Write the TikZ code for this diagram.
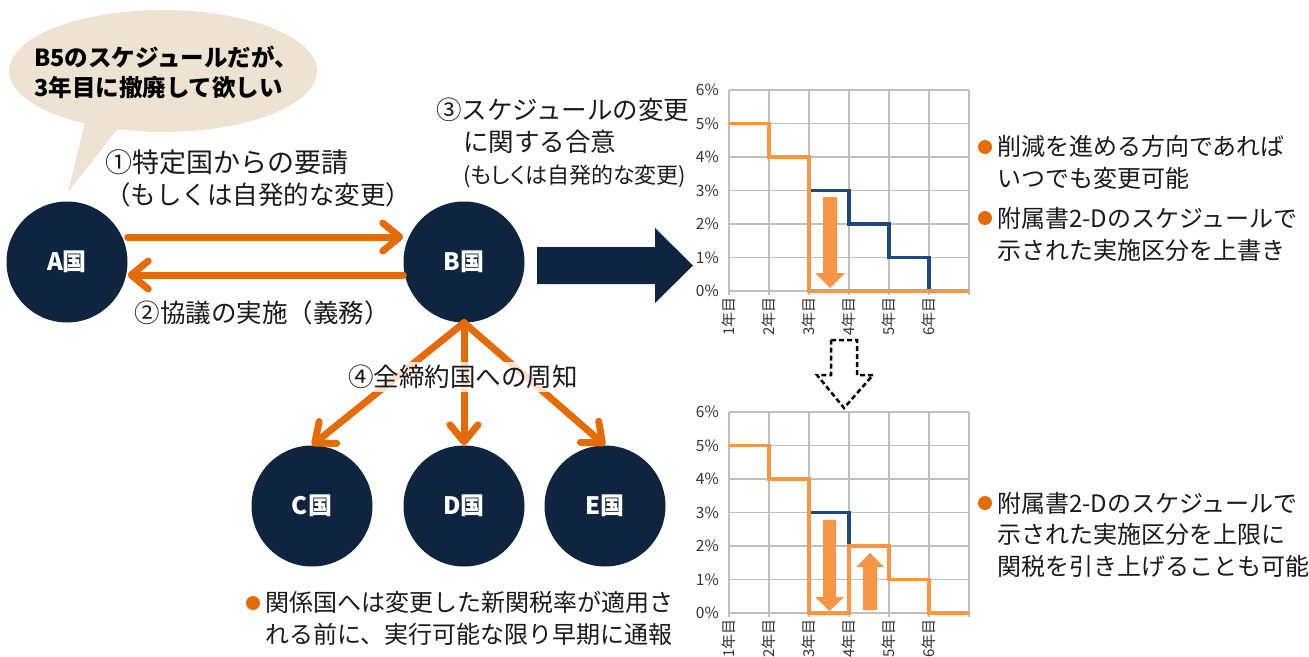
\documentclass[tikz,border=0pt]{standalone}
\usepackage{fontspec}
\setmainfont{Noto Sans CJK JP}
\usetikzlibrary{arrows.meta}
\definecolor{navy}{HTML}{0F243E}
\definecolor{flowor}{HTML}{E36C09}
\definecolor{lightor}{HTML}{F79646}
\definecolor{lineblue}{HTML}{1F497D}
\definecolor{bubblebg}{HTML}{EEE3D2}
\definecolor{gridgray}{HTML}{BFBFBF}
\definecolor{ink}{HTML}{1A1A1A}
\definecolor{axisink}{HTML}{333333}
\begin{document}
\begin{tikzpicture}
[x=1pt,y=-1pt,%
  country/.style={circle,fill=navy,minimum size=121pt,inner sep=0pt,text=white,font=\fontsize{24}{26}\selectfont\bfseries},%
  flow/.style={draw=flowor,line width=7pt,line cap=round,-{Straight Barb[length=17pt,width=28pt,round]}},%
  talk/.style={inner sep=0pt,text=ink,align=left,font=\fontsize{25.5}{32}\selectfont},%
  memo/.style={inner sep=0pt,text=ink,align=left,font=\fontsize{24}{31.5}\selectfont},%
  dot/.style={circle,fill=flowor,minimum size=14pt,inner sep=0pt},%
  pct/.style={anchor=east,inner sep=0pt,text=axisink,font=\fontsize{15.5}{17}\selectfont},%
  yearlbl/.style={rotate=90,anchor=east,inner sep=0pt,text=axisink,font=\fontsize{15}{17}\selectfont},%
  gridline/.style={draw=gridgray,line width=1.5pt},%
  planned/.style={draw=lineblue,line width=3.5pt},%
  revised/.style={draw=lightor,line width=3.5pt},%
  fatarrow/.style={fill=lightor}]
\useasboundingbox (0,0) rectangle (1309,656);
% request bubble
\fill[bubblebg] (163,71) ellipse [x radius=154,y radius=61];
\coordinate (tailtip) at (68,192);
\fill[bubblebg] (86,118) -- (tailtip) -- (120,126) -- cycle;
\node[inner sep=0pt,align=left,text=black,font=\fontsize{23.5}{30}\selectfont\bfseries] (wish) at (166,72)
  {B5のスケジュールだが、\\3年目に撤廃して欲しい};
% countries
\node[country] (A) at (67,262) {A国};
\node[country] (B) at (464,262) {B国};
\node[country] (C) at (312,506) {C国};
\node[country] (D) at (464,506) {D国};
\node[country] (E) at (605,506) {E国};
\draw[flow] ([yshift=25pt]A.east) -- ([yshift=25pt]B.west);
\draw[flow] ([yshift=-13pt]B.west) -- ([yshift=-13pt]A.east);
\draw[flow] (B.south) -- (C.north);
\draw[flow] (B.south) -- (D.north);
\draw[flow] (B.south) -- (E.north);
\node[talk,anchor=west] (ask) at (105,178)
  {{\fontsize{27}{32}\selectfont ①特定国からの要請}\\（もしくは自発的な変更）};
\node[talk] (consult) at (262,313) {②協議の実施（義務）};
\node[talk,anchor=west] (agree) at (436,143)
  {③スケジュールの変更\\\hspace{27pt}に関する合意\\\hspace{27pt}{\addfontfeature{RawFeature=+palt}\fontsize{22}{32}\selectfont (もしくは自発的な変更)}};
\node[talk,fill=white,fill opacity=0.8,text opacity=1,inner sep=3pt] (notify) at (463,377) {④全締約国への周知};
% big arrow to the charts
\fill[navy] (537,247) -- (655,247) -- (655,228) -- (693,265.5) -- (655,303) -- (655,284) -- (537,284) -- cycle;
% upper chart
\begin{scope}[shift={(729,291)},x=40pt,y=33.5pt]
  \foreach \i in {0,...,6} {
    \draw[gridline] (\i,-0.12) -- (\i,6);
    \draw[gridline] (0,\i) -- (6,\i);
  }
  \foreach \p in {0,...,6} \node[pct] (pa\p) at (-0.25,\p) {\p\%};
  \foreach \i in {1,...,6} \node[yearlbl] (ya\i) at (\i-1,-0.18) {\i 年目};
  \draw[planned] (0,5) -| (1,4) -| (2,3) -| (3,2) -| (4,1) -| (5,0) -- (6,0);
  \draw[revised] (0,5) -| (1,4) -| (2,0) -- (6,0);
\end{scope}
\fill[fatarrow] (823,197) -- (837,197) -- (837,273) -- (845,273) -- (830,288) -- (815,273) -- (823,273) -- cycle;
% dashed step arrow
\draw[black,line width=2.5pt,dash pattern=on 5pt off 3pt] (831,340) -- (857,340) -- (857,375) -- (873,375) -- (844,408) -- (817,375) -- (831,375) -- cycle;
% lower chart
\begin{scope}[shift={(729,613)},x=40pt,y=33.5pt]
  \foreach \i in {0,...,6} {
    \draw[gridline] (\i,-0.12) -- (\i,6);
    \draw[gridline] (0,\i) -- (6,\i);
  }
  \foreach \p in {0,...,6} \node[pct] (pb\p) at (-0.25,\p) {\p\%};
  \foreach \i in {1,...,6} \node[yearlbl] (yb\i) at (\i-1,-0.18) {\i 年目};
  \draw[planned] (0,5) -| (1,4) -| (2,3) -| (3,2) -| (4,1) -| (5,0) -- (6,0);
  \draw[revised] (0,5) -| (1,4) -| (2,0) -| (3,2) -| (4,1) -| (5,0) -- (6,0);
\end{scope}
\fill[fatarrow] (823,520) -- (836,520) -- (836,597) -- (844,597) -- (829.5,611) -- (815,597) -- (823,597) -- cycle;
\fill[fatarrow] (863,610) -- (877,610) -- (877,567) -- (884,567) -- (870,553) -- (856,567) -- (863,567) -- cycle;
% notes
\node[dot] (d1) at (985,147) {};
\node[memo,anchor=west] (m1) at (997,162.5) {削減を進める方向であれば\\いつでも変更可能};
\node[dot] (d2) at (985,218) {};
\node[memo,anchor=west] (m2) at (997,234.5) {附属書2-Dのスケジュールで\\示された実施区分を上書き};
\node[dot] (d3) at (985,503) {};
\node[memo,anchor=west] (m3) at (997,534.5) {附属書2-Dのスケジュールで\\示された実施区分を上限に\\関税を引き上げることも可能};
\node[dot] (d4) at (253,603) {};
\node[memo,anchor=west] (m4) at (265,618.5) {関係国へは変更した新関税率が適用さ\\れる前に、実行可能な限り早期に通報};
\end{tikzpicture}
\end{document}
